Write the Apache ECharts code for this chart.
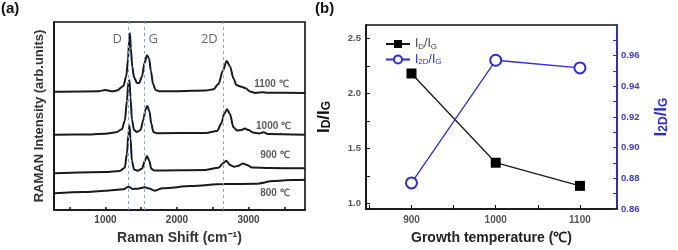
<!DOCTYPE html>
<html>
<head>
<meta charset="utf-8">
<title>Raman spectra</title>
<script src="https://cdn.jsdelivr.net/npm/echarts@6/dist/echarts.min.js"></script>
<style>
  html, body { margin: 0; padding: 0; background: #fff; }
  #chart { width: 678px; height: 250px; }
</style>
</head>
<body>
<div id="chart"></div>
<script>
// ---- (a) Raman spectra, [shift (cm-1), intensity (arb.)]
var spec1100 = [[290,62.9],[900,63.2],[1000,63.8],[1100,63.1],[1160,63.5],[1250,66],[1290,71],[1315,80],[1330,90],[1342,94],[1355,86],[1375,76],[1400,70.5],[1440,67.6],[1470,67.5],[1510,71],[1545,78],[1580,82.3],[1610,80.5],[1635,74],[1665,67],[1700,63.8],[1750,63.1],[2000,63.2],[2400,63.6],[2510,64.2],[2580,67],[2640,74],[2695,79.3],[2740,76.5],[2790,70],[2830,66.5],[2900,65.5],[2960,64.8],[3020,63],[3100,62.3],[3200,62.6],[3260,62.4],[3790,62.2]];
var spec1000 = [[290,40],[800,40.2],[1000,40.6],[1150,41.3],[1230,43],[1270,47.5],[1300,58],[1320,68],[1335,69],[1350,60],[1370,48],[1400,42.5],[1440,41.5],[1490,42.5],[1530,48],[1560,53.5],[1585,55.3],[1615,52.5],[1640,46],[1670,41.5],[1720,40.8],[2400,41],[2560,42],[2620,46],[2660,51],[2700,53.6],[2740,51],[2790,44],[2840,42.3],[2900,42.6],[2950,43.3],[3000,42.5],[3060,41.2],[3150,40.7],[3210,41.3],[3270,40.4],[3790,40]];
var spec900 = [[290,19.5],[1000,20.2],[1200,20.8],[1270,22.5],[1300,30],[1320,40],[1335,45],[1350,38],[1370,26],[1400,21.5],[1450,20.9],[1510,22],[1550,26],[1580,28.7],[1610,26.5],[1640,22],[1680,21],[2400,21.3],[2580,22.5],[2650,25],[2690,26.2],[2740,24],[2800,23],[2850,23.4],[2920,24.8],[2980,24],[3050,22.6],[3300,22.3],[3790,22.2]];
var spec800 = [[290,8.9],[700,9.6],[1000,10.2],[1250,11],[1320,12.4],[1380,11.2],[1450,11.3],[1550,12.1],[1610,11.4],[1690,10.3],[1800,11.6],[2200,12.7],[2650,13.8],[3100,13.9],[3350,15.4],[3600,15.9],[3790,16.1]];

var specNames = ['1100 ℃', '1000 ℃', '900 ℃', '800 ℃'];
var specLabelPos = [[3320, 66.8], [3350, 44.7], [3370, 29.3], [3370, 8.9]];
var peakNames = ['D', 'G', '2D'];
var peakLines = [1320, 1545, 2650];
var peakLabelPos = [[1165, 90.8], [1669, 90.8], [2452, 90.8]];
var shiftTicks = [500, 1000, 1500, 2000, 2500, 3000, 3500];
var shiftLabels = [1000, 2000, 3000];

// ---- (b) intensity ratios vs growth temperature
var temps = [900, 1000, 1100];
var ratioDG = [2.18, 1.37, 1.16];
var ratio2DG = [0.877, 0.957, 0.952];
var tempTicks = [850, 900, 950, 1000, 1050, 1100];
var tempLabels = [900, 1000, 1100];
var leftTicks = [1.0, 1.25, 1.5, 1.75, 2.0, 2.25, 2.5];
var leftLabels = [1.0, 1.5, 2.0, 2.5];
var rightTicks = [0.86, 0.87, 0.88, 0.89, 0.90, 0.91, 0.92, 0.93, 0.94, 0.95, 0.96, 0.97];
var rightLabels = [0.86, 0.88, 0.90, 0.92, 0.94, 0.96];

var BLUE = '#2b2be0';
var INK = '#1a1a1a';

var myChart = echarts.init(document.getElementById('chart'));

function pairs(xs, ys) {
  return xs.map(function (x, i) { return [x, ys[i]]; });
}
function ratioName(top) {
  return '{n|I}{s|' + top + '}{n|/I}{s|G}';
}

var specs = [spec1100, spec1000, spec900, spec800];
var series = specs.map(function (d, i) {
  var s = {
    type: 'line', xAxisIndex: 0, yAxisIndex: 0,
    data: d, showSymbol: false, smooth: 0.3, smoothMonotone: 'x',
    lineStyle: { color: INK, width: 2 }, silent: true
  };
  if (i === 0) {
    s.markLine = {
      silent: true, symbol: 'none', label: { show: false },
      lineStyle: { color: '#7fa6d8', type: [3, 3], width: 1 },
      data: peakLines.map(function (v) { return { xAxis: v }; })
    };
  }
  return s;
});

// text labels placed in data coordinates
series.push({
  type: 'scatter', xAxisIndex: 0, yAxisIndex: 0, symbolSize: 1, silent: true,
  itemStyle: { color: 'rgba(0,0,0,0)' },
  label: { show: true, position: 'inside', formatter: '{b}', color: '#333', fontSize: 10, fontWeight: 'bold', fontFamily: 'Liberation Sans' },
  data: specNames.map(function (n, i) { return { name: n, value: specLabelPos[i] }; })
});
series.push({
  type: 'scatter', xAxisIndex: 0, yAxisIndex: 0, symbolSize: 1, silent: true,
  itemStyle: { color: 'rgba(0,0,0,0)' },
  label: { show: true, position: 'inside', formatter: '{b}', color: '#444', fontSize: 13, fontFamily: 'Open Sans' },
  data: peakNames.map(function (n, i) { return { name: n, value: peakLabelPos[i] }; })
});

series.push({
  name: 'ID/IG', type: 'line', xAxisIndex: 1, yAxisIndex: 1,
  data: pairs(temps, ratioDG),
  symbol: 'rect', symbolSize: 10,
  itemStyle: { color: '#000' },
  lineStyle: { color: INK, width: 1.3 }
});
series.push({
  name: 'I2D/IG', type: 'line', xAxisIndex: 1, yAxisIndex: 2,
  data: pairs(temps, ratio2DG),
  symbol: 'emptyCircle', symbolSize: 11,
  itemStyle: { color: BLUE, borderWidth: 1.2 },
  lineStyle: { color: BLUE, width: 1.3 }
});

var subRich = {
  n: { fontSize: 12, fontFamily: 'Liberation Sans' },
  s: { fontSize: 8, fontFamily: 'Liberation Sans', padding: [5, 0, 0, 0] }
};
var bigRich = {
  n: { fontSize: 17, fontWeight: 'bold', fontFamily: 'Liberation Sans' },
  s: { fontSize: 12, fontWeight: 'bold', fontFamily: 'Liberation Sans', verticalAlign: 'bottom' }
};

var option = {
  animation: false,
  backgroundColor: '#fff',
  textStyle: { fontFamily: 'Liberation Sans' },
  graphic: [
    { type: 'text', left: 1, top: 1, style: { text: '(a)', fontSize: 15, fontWeight: 'bold', fill: '#111', fontFamily: 'Liberation Sans' } },
    { type: 'text', left: 315, top: 1, style: { text: '(b)', fontSize: 15, fontWeight: 'bold', fill: '#111', fontFamily: 'Liberation Sans' } }
  ],
  legend: {
    left: 380, top: 33, orient: 'vertical', itemGap: 3,
    itemWidth: 24, itemHeight: 10,
    formatter: function (name) { return name === 'ID/IG' ? ratioName('D') : ratioName('2D'); },
    textStyle: { rich: subRich, color: '#444' },
    data: [
      { name: 'ID/IG', textStyle: { color: '#444' } },
      { name: 'I2D/IG', textStyle: { color: BLUE } }
    ]
  },
  grid: [
    { left: 54, top: 22, width: 251, height: 188, show: true, borderColor: '#111', borderWidth: 1.6 },
    { left: 366, top: 25, width: 251, height: 185, show: true, borderColor: '#111', borderWidth: 1.6 }
  ],
  xAxis: [
    {
      gridIndex: 0, type: 'value', min: 280, max: 3790,
      axisLine: { lineStyle: { color: '#111', width: 1.6 } },
      axisTick: { inside: true, length: 3, customValues: shiftTicks, lineStyle: { color: '#111', width: 1.5 } },
      axisLabel: { customValues: shiftLabels, color: '#444', fontSize: 10, fontWeight: 'bold', margin: 5,
        formatter: function (v) { return String(v); } },
      splitLine: { show: false },
      name: 'Raman Shift (cm⁻¹)', nameLocation: 'middle', nameGap: 21,
      nameTextStyle: { fontSize: 14, fontWeight: 'bold', color: '#333' }
    },
    {
      gridIndex: 1, type: 'value', min: 846, max: 1144,
      axisLine: { lineStyle: { color: '#111', width: 1.6 } },
      axisTick: { inside: true, length: 4, customValues: tempTicks, lineStyle: { color: '#111' } },
      axisLabel: { customValues: tempLabels, color: '#555', fontSize: 10, fontWeight: 'bold', margin: 6,
        formatter: function (v) { return String(v); } },
      splitLine: { show: false },
      name: 'Growth temperature (℃)', nameLocation: 'middle', nameGap: 22,
      nameTextStyle: { fontSize: 14, fontWeight: 'bold', color: '#222' }
    }
  ],
  yAxis: [
    {
      gridIndex: 0, type: 'value', min: 0, max: 100,
      axisLine: { show: true, lineStyle: { color: '#111', width: 1.6 } },
      axisTick: { show: false }, axisLabel: { show: false }, splitLine: { show: false },
      name: 'RAMAN Intensity (arb.units)', nameLocation: 'middle', nameGap: 8, nameRotate: 90,
      nameTextStyle: { fontSize: 13, fontWeight: 'bold', color: '#333' }
    },
    {
      gridIndex: 1, type: 'value', min: 0.95, max: 2.62,
      axisLine: { show: true, lineStyle: { color: '#111', width: 1.6 } },
      axisTick: { inside: true, length: 4, customValues: leftTicks, lineStyle: { color: '#111' } },
      axisLabel: { customValues: leftLabels, color: '#555', fontSize: 9.5, fontWeight: 'bold', margin: 5,
        formatter: function (v) { return v.toFixed(1); } },
      splitLine: { show: false },
      name: ratioName('D'), nameLocation: 'middle', nameGap: 33, nameRotate: 90,
      nameTextStyle: { color: '#111', rich: bigRich }
    },
    {
      gridIndex: 1, type: 'value', position: 'right', min: 0.86, max: 0.98,
      axisLine: { show: true, lineStyle: { color: BLUE, width: 1.6 } },
      axisTick: { inside: true, length: 4, customValues: rightTicks, lineStyle: { color: BLUE } },
      axisLabel: { customValues: rightLabels, color: '#3a3ad0', fontSize: 9.5, fontWeight: 'bold', margin: 4,
        formatter: function (v) { return v.toFixed(2); } },
      splitLine: { show: false },
      name: ratioName('2D'), nameLocation: 'middle', nameGap: 36, nameRotate: 90,
      nameTextStyle: { color: BLUE, rich: bigRich }
    }
  ],
  series: series
};

myChart.setOption(option);
</script>
</body>
</html>
